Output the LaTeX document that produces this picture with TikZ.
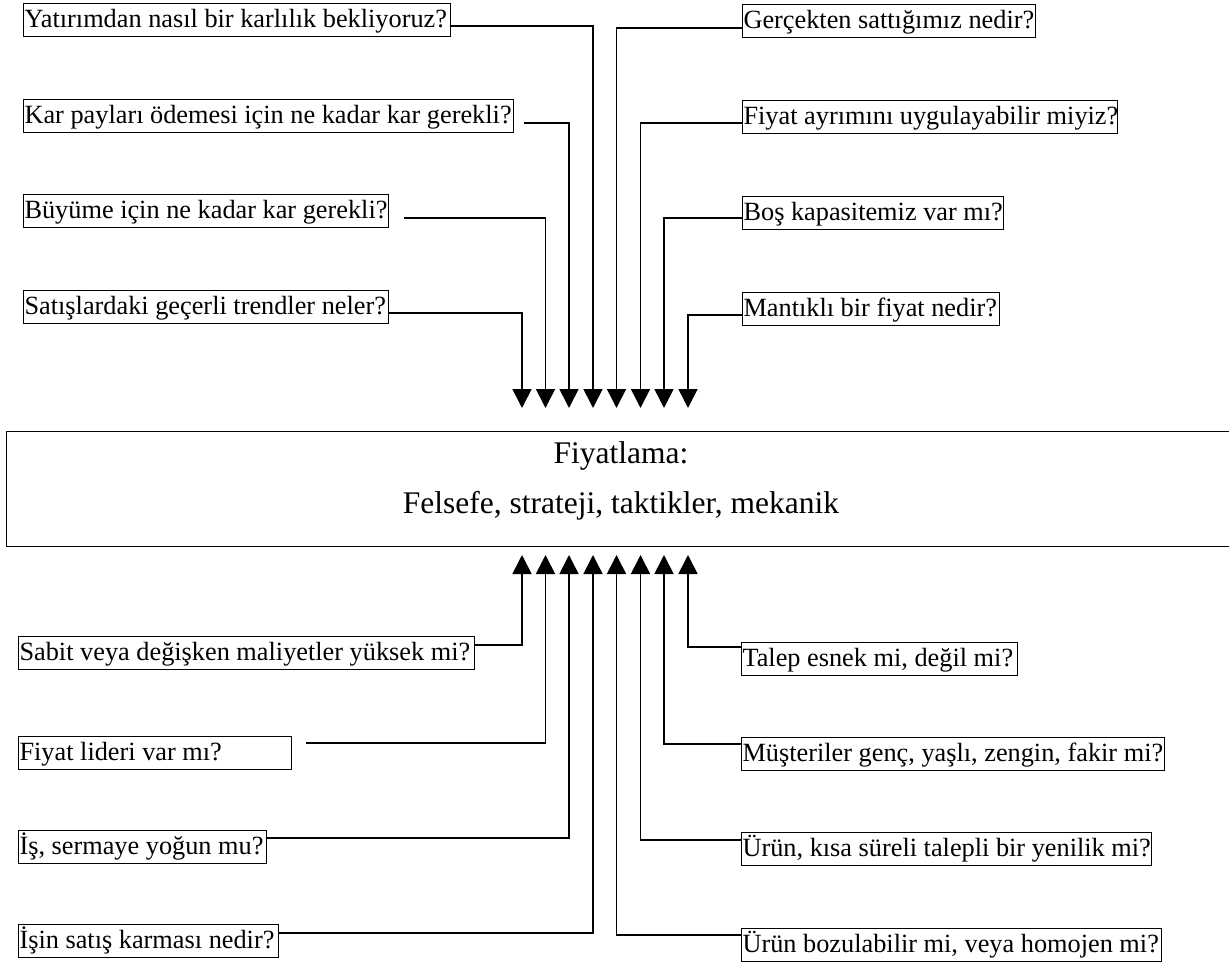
\documentclass[tikz,border=0pt]{standalone}
\usepackage{fontspec}
\setmainfont{Liberation Serif}
\usetikzlibrary{arrows.meta,calc}
\newcommand{\qbox}[2]{\makebox[#1pt][l]{#2}}
\begin{document}
\begin{tikzpicture}[x=1pt,y=-1pt,
  qnode/.style={draw, line width=1.1pt, anchor=north west, inner xsep=1pt, inner ysep=0pt,
    minimum height=33pt, text height=20pt, text depth=6pt, font=\fontsize{26.3}{30}\selectfont},
  conn/.style={line width=1.7pt, -{Triangle[width=19pt,length=19pt]}},
  maintext/.style={anchor=base, inner sep=0pt, font=\fontsize{31.5}{36}\selectfont}
]
\useasboundingbox (0,0) rectangle (1229,963);

% central box
\node[draw, line width=1.3pt, anchor=north west, minimum width=1232pt, minimum height=115pt, inner sep=0pt] (main) at (6,431) {};
\node[maintext] (m1) at (621,463) {Fiyatlama:};
\node[maintext] (m2) at (621,513) {Felsefe, strateji, taktikler, mekanik};

% top-left questions
\node[qnode] (y1) at (23,3)   {\qbox{425}{Yatırımdan nasıl bir karlılık bekliyoruz?}};
\node[qnode] (y2) at (23,99)  {\qbox{488}{Kar payları ödemesi için ne kadar kar gerekli?}};
\node[qnode] (y3) at (23,194) {\qbox{363}{Büyüme için ne kadar kar gerekli?}};
\node[qnode] (y4) at (23,290) {\qbox{363}{Satışlardaki geçerli trendler neler?}};
% top-right questions
\node[qnode] (r1) at (742,4)   {\qbox{291}{Gerçekten sattığımız nedir?}};
\node[qnode] (r2) at (742,100) {\qbox{373}{Fiyat ayrımını uygulayabilir miyiz?}};
\node[qnode] (r3) at (742,196) {\qbox{259}{Boş kapasitemiz var mı?}};
\node[qnode] (r4) at (742,292) {\qbox{255}{Mantıklı bir fiyat nedir?}};
% bottom-left questions
\node[qnode] (b1) at (18,636) {\qbox{454}{Sabit veya değişken maliyetler yüksek mi?}};
\node[qnode] (b2) at (18,736) {\qbox{271}{Fiyat lideri var mı?}};
\node[qnode] (b3) at (18,830) {\qbox{246}{İş, sermaye yoğun mu?}};
\node[qnode] (b4) at (18,924) {\qbox{258}{İşin satış karması nedir?}};
% bottom-right questions
\node[qnode] (c1) at (741,642) {\qbox{274}{Talep esnek mi, değil mi?}};
\node[qnode] (c2) at (741,737) {\qbox{421}{Müşteriler genç, yaşlı, zengin, fakir mi?}};
\node[qnode] (c3) at (741,832) {\qbox{408}{Ürün, kısa süreli talepli bir yenilik mi?}};
\node[qnode] (c4) at (741,928) {\qbox{418}{Ürün bozulabilir mi, veya homojen mi?}};

% arrow tips
\coordinate (d1) at (522,408);
\coordinate (d2) at (545.5,408);
\coordinate (d3) at (569,408);
\coordinate (d4) at (593,408);
\coordinate (d5) at (616.5,408);
\coordinate (d6) at (640.5,408);
\coordinate (d7) at (664,408);
\coordinate (d8) at (688,408);
\coordinate (u1) at (522,555);
\coordinate (u2) at (545.5,555);
\coordinate (u3) at (569,555);
\coordinate (u4) at (593,555);
\coordinate (u5) at (616.5,555);
\coordinate (u6) at (640.5,555);
\coordinate (u7) at (664,555);
\coordinate (u8) at (688,555);

% connectors into the top of the central box
\draw[conn] (y1.east |- 0,26) -| (d4);
\draw[conn] ($(y2.east |- 0,123)+(10,0)$) -| (d3);
\draw[conn] ($(y3.east |- 0,218)+(15,0)$) -| (d2);
\draw[conn] (y4.east |- 0,313) -| (d1);
\draw[conn] (r1.west |- 0,28) -| (d5);
\draw[conn] (r2.west |- 0,123) -| (d6);
\draw[conn] (r3.west |- 0,218) -| (d7);
\draw[conn] (r4.west |- 0,315) -| (d8);
% connectors into the bottom of the central box
\draw[conn] (b1.east |- 0,645) -| (u1);
\draw[conn] ($(b2.east |- 0,743)+(14,0)$) -| (u2);
\draw[conn] (b3.east |- 0,838) -| (u3);
\draw[conn] (b4.east |- 0,933) -| (u4);
\draw[conn] (c1.west |- 0,647) -| (u8);
\draw[conn] (c2.west |- 0,744) -| (u7);
\draw[conn] (c3.west |- 0,840) -| (u6);
\draw[conn] (c4.west |- 0,935) -| (u5);
\end{tikzpicture}
\end{document}
